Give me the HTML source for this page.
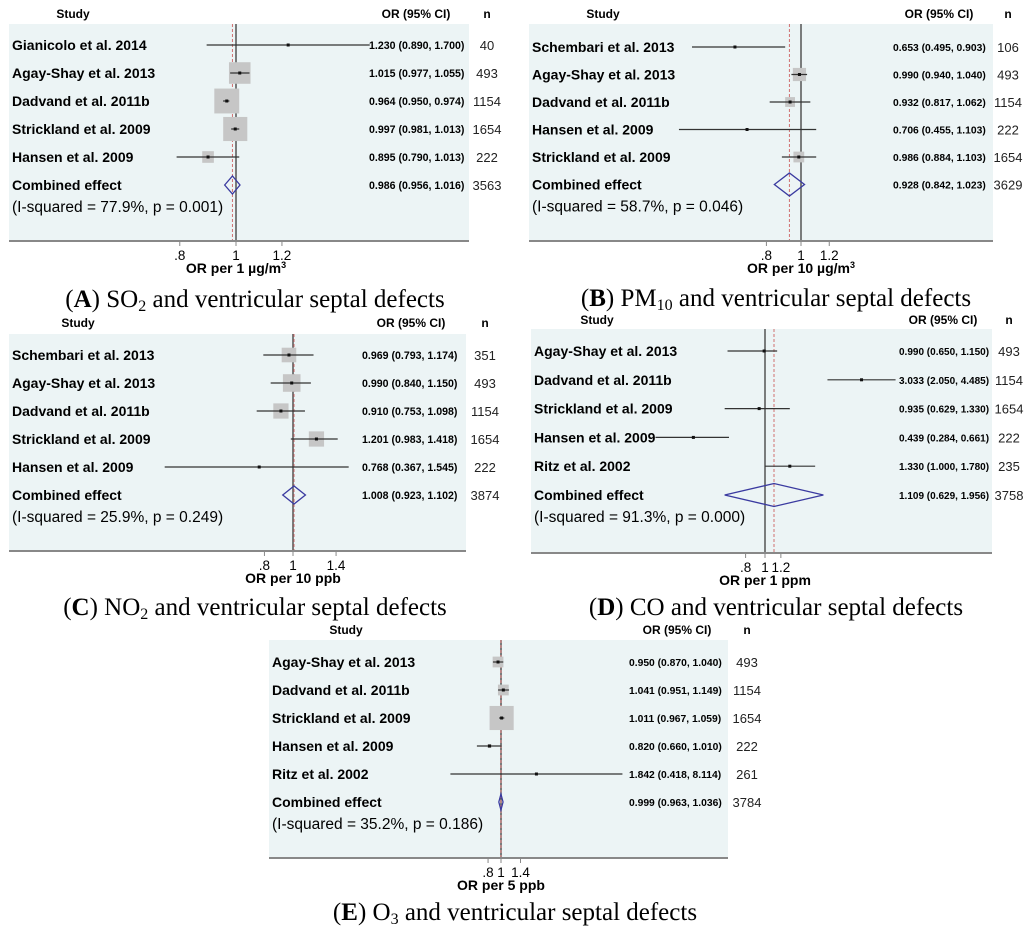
<!DOCTYPE html>
<html><head><meta charset="utf-8"><style>
html,body{margin:0;padding:0;background:#fff;}
svg{display:block;font-family:"Liberation Sans",Arial,sans-serif;}
</style></head><body>
<svg id="fig" width="1024" height="935" viewBox="0 0 1024 935" xmlns="http://www.w3.org/2000/svg"></svg>
<script>
// Panel A - SO2
const studiesA = ["Gianicolo et al. 2014","Agay-Shay et al. 2013","Dadvand et al. 2011b","Strickland et al. 2009","Hansen et al. 2009"];
const orA = [1.230,1.015,0.964,0.997,0.895];
const lowA = [0.890,0.977,0.950,0.981,0.790];
const highA = [1.700,1.055,0.974,1.013,1.013];
const nA = [40,493,1154,1654,222];
const weightA = [0.1,24,32,30,7];
const pooledA = [0.986,0.956,1.016,3563];
const isqA = "(I-squared = 77.9%, p = 0.001)";
const ticksA = [0.8,1,1.2];
const tickLabelsA = [".8","1","1.2"];
// Panel B - PM10
const studiesB = ["Schembari et al. 2013","Agay-Shay et al. 2013","Dadvand et al. 2011b","Hansen et al. 2009","Strickland et al. 2009"];
const orB = [0.653,0.990,0.932,0.706,0.986];
const lowB = [0.495,0.940,0.817,0.455,0.884];
const highB = [0.903,1.040,1.062,1.103,1.103];
const nB = [106,493,1154,222,1654];
const weightB = [0.4,9,5,0.3,6];
const pooledB = [0.928,0.842,1.023,3629];
const isqB = "(I-squared = 58.7%, p = 0.046)";
const ticksB = [0.8,1,1.2];
const tickLabelsB = [".8","1","1.2"];
// Panel C - NO2
const studiesC = ["Schembari et al. 2013","Agay-Shay et al. 2013","Dadvand et al. 2011b","Strickland et al. 2009","Hansen et al. 2009"];
const orC = [0.969,0.990,0.910,1.201,0.768];
const lowC = [0.793,0.840,0.753,0.983,0.367];
const highC = [1.174,1.150,1.098,1.418,1.545];
const nC = [351,493,1154,1654,222];
const weightC = [11,16,12,12,0.2];
const pooledC = [1.008,0.923,1.102,3874];
const isqC = "(I-squared = 25.9%, p = 0.249)";
const ticksC = [0.8,1,1.4];
const tickLabelsC = [".8","1","1.4"];
// Panel D - CO
const studiesD = ["Agay-Shay et al. 2013","Dadvand et al. 2011b","Strickland et al. 2009","Hansen et al. 2009","Ritz et al. 2002"];
const orD = [0.990,3.033,0.935,0.439,1.330];
const lowD = [0.650,2.050,0.629,0.284,1.000];
const highD = [1.150,4.485,1.330,0.661,1.780];
const nD = [493,1154,1654,222,235];
const weightD = [0.1,0.1,0.1,0.1,0.1];
const pooledD = [1.109,0.629,1.956,3758];
const isqD = "(I-squared = 91.3%, p = 0.000)";
const ticksD = [0.8,1,1.2];
const tickLabelsD = [".8","1","1.2"];
// Panel E - O3
const studiesE = ["Agay-Shay et al. 2013","Dadvand et al. 2011b","Strickland et al. 2009","Hansen et al. 2009","Ritz et al. 2002"];
const orE = [0.950,1.041,1.011,0.820,1.842];
const lowE = [0.870,0.951,0.967,0.660,0.418];
const highE = [1.040,1.149,1.059,1.010,8.114];
const nE = [493,1154,1654,222,261];
const weightE = [6,6,30,0.8,0.1];
const pooledE = [0.999,0.963,1.036,3784];
const isqE = "(I-squared = 35.2%, p = 0.186)";
const ticksE = [0.8,1,1.4];
const tickLabelsE = [".8","1","1.4"];

const NS="http://www.w3.org/2000/svg";
const svg=document.getElementById('fig');
function mk(tag,attrs,parent,text){const e=document.createElementNS(NS,tag);for(const k in attrs)e.setAttribute(k,attrs[k]);if(text!==undefined)e.textContent=text;(parent||svg).appendChild(e);return e;}

function panel(id,L,studies,or,low,high,n,weight,pooled,isq,ticks,tickLabels,axisTitle,caption){
  const g=mk('g',{});
  
  
  const xs=v=>L.x1+Math.log(v)*L.k;
  const ofs=L.ofs||10.6;
  const bg=mk('rect',{x:L.bx0,y:L.by0,width:L.bx1-L.bx0,height:L.by1-L.by0,fill:'#ecf4f5'},g);
  
  
  let t=mk('text',{x:L.studyHx,y:L.hy,'text-anchor':'middle','font-size':12,'font-weight':'bold'},g,'Study');
  
  t=mk('text',{x:L.orHx,y:L.hy,'text-anchor':'middle','font-size':12,'font-weight':'bold'},g,'OR (95% CI)');
  
  t=mk('text',{x:L.nx,y:L.hy,'text-anchor':'middle','font-size':12,'font-weight':'bold'},g,'n');
  
  let ln=mk('line',{x1:xs(1),x2:xs(1),y1:L.by0,y2:L.by1,stroke:'#555','stroke-width':1.5},g);
  
  ln=mk('line',{x1:xs(pooled[0]),x2:xs(pooled[0]),y1:L.by0,y2:L.by1,stroke:'#d07070','stroke-width':1,'stroke-dasharray':'3,2'},g);
  
  studies.forEach((s,i)=>{
    const y=L.ry0+i*L.dy;
    const lbl=mk('text',{x:L.lx,y:y+5,'font-size':14,'font-weight':'bold'},g,s);
    
    const side=Math.sqrt(weight[i])*4.4;
    const b=mk('rect',{x:xs(or[i])-side/2,y:y-side/2,width:side,height:side,fill:'#c6c6c6'},g);
    
    const ci=mk('line',{x1:xs(low[i]),x2:xs(high[i]),y1:y,y2:y,stroke:'#333','stroke-width':1.2},g);
    
    const p=mk('rect',{x:xs(or[i])-1.5,y:y-1.5,width:3,height:3,fill:'#111'},g);
    
    const v=mk('text',{x:L.ox,y:y+4,'font-size':ofs,'font-weight':'bold'},g,or[i].toFixed(3)+' ('+low[i].toFixed(3)+', '+high[i].toFixed(3)+')');
    
    const nn=mk('text',{x:L.nx,y:y+5,'text-anchor':'middle','font-size':13,fill:'#222'},g,String(n[i]));
    
  });
  const yc=L.ry0+studies.length*L.dy;
  t=mk('text',{x:L.lx,y:yc+5,'font-size':14,'font-weight':'bold'},g,'Combined effect');
  
  t=mk('text',{x:L.lx,y:yc+27,'font-size':15.5},g,isq);
  
  const h=L.dh/2;
  const d=mk('polygon',{points:`${xs(pooled[1])},${yc} ${xs(pooled[0])},${yc-h} ${xs(pooled[2])},${yc} ${xs(pooled[0])},${yc+h}`,fill:'none',stroke:'#3a3aa0','stroke-width':1.3},g);
  
  t=mk('text',{x:L.ox,y:yc+4,'font-size':ofs,'font-weight':'bold'},g,pooled[0].toFixed(3)+' ('+pooled[1].toFixed(3)+', '+pooled[2].toFixed(3)+')');
  
  t=mk('text',{x:L.nx,y:yc+5,'text-anchor':'middle','font-size':13,fill:'#222'},g,String(pooled[3]));
  
  ln=mk('line',{x1:L.bx0,x2:L.bx1,y1:L.by1,y2:L.by1,stroke:'#888','stroke-width':2},g);
  
  ticks.forEach((tv,i)=>{
    const tk=mk('line',{x1:xs(tv),x2:xs(tv),y1:L.by1,y2:L.by1+5,stroke:'#888','stroke-width':1},g);
    
    const tl=mk('text',{x:xs(tv),y:L.by1+19,'text-anchor':'middle','font-size':13.5},g,tickLabels[i]);
    
  });
  const at=mk('text',{x:xs(1),y:L.by1+32,'text-anchor':'middle','font-size':14,'font-weight':'bold'},g);
  
  axisTitle.forEach(p=>{mk('tspan',p.sup?{dy:-5,'font-size':9}:{},at,p.t);});
  const cap=mk('text',{x:L.cx,y:L.cy,'text-anchor':'middle','font-size':25,'font-family':'"Liberation Serif",serif'},g);
  
  let shifted=false;
  caption.forEach(p=>{
    const a=p.b?{'font-weight':'bold'}:{};
    if(p.sub){a.dy=4;a['font-size']=16;shifted=true;}
    else if(shifted){a.dy=-4;shifted=false;}
    mk('tspan',a,cap,p.t);
  });
}

panel('a',{bx0:9,bx1:469,by0:24,by1:241,x1:236,k:252,ry0:45,dy:28,dh:18,lx:12,ox:369,nx:487,studyHx:73,orHx:416,hy:18,cx:255,cy:307},
  studiesA,orA,lowA,highA,nA,weightA,pooledA,isqA,ticksA,tickLabelsA,
  [{t:'OR per 1 µg/m'},{t:'3',sup:1}],[{t:'(',},{t:'A',b:1},{t:') SO'},{t:'2',sub:1},{t:' and ventricular septal defects'}]);
panel('b',{bx0:529,bx1:993,by0:24,by1:241,x1:801,k:155,ry0:47,dy:27.5,dh:23,lx:532,ox:893,nx:1008,studyHx:603,orHx:939,hy:18,cx:776,cy:306,ofs:10.3},
  studiesB,orB,lowB,highB,nB,weightB,pooledB,isqB,ticksB,tickLabelsB,
  [{t:'OR per 10 µg/m'},{t:'3',sup:1}],[{t:'(',},{t:'B',b:1},{t:') PM'},{t:'10',sub:1},{t:' and ventricular septal defects'}]);
panel('c',{bx0:9,bx1:466,by0:334,by1:551,x1:293,k:128,ry0:355,dy:28,dh:18,lx:12,ox:362,nx:485,studyHx:78,orHx:411,hy:327,cx:255,cy:615},
  studiesC,orC,lowC,highC,nC,weightC,pooledC,isqC,ticksC,tickLabelsC,
  [{t:'OR per 10 ppb'}],[{t:'(',},{t:'C',b:1},{t:') NO'},{t:'2',sub:1},{t:' and ventricular septal defects'}]);
panel('d',{bx0:531,bx1:992,by0:329,by1:553,x1:765,k:87,ry0:351,dy:28.8,dh:23,lx:534,ox:899,nx:1009,studyHx:597,orHx:943,hy:324,cx:776,cy:615,ofs:10},
  studiesD,orD,lowD,highD,nD,weightD,pooledD,isqD,ticksD,tickLabelsD,
  [{t:'OR per 1 ppm'}],[{t:'(',},{t:'D',b:1},{t:') CO and ventricular septal defects'}]);
panel('e',{bx0:269,bx1:728,by0:640,by1:858,x1:501,k:58,ry0:662,dy:28,dh:16,lx:272,ox:629,nx:747,studyHx:346,orHx:677,hy:634,cx:515,cy:920,ofs:10.3},
  studiesE,orE,lowE,highE,nE,weightE,pooledE,isqE,ticksE,tickLabelsE,
  [{t:'OR per 5 ppb'}],[{t:'(',},{t:'E',b:1},{t:') O'},{t:'3',sub:1},{t:' and ventricular septal defects'}]);
</script>
</body></html>
